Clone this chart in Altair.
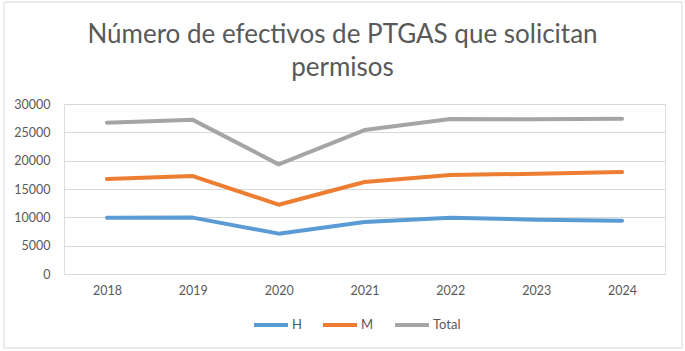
import altair as alt
import pandas as pd

years = ["2018", "2019", "2020", "2021", "2022", "2023", "2024"]
h_vals = [9940, 9950, 7120, 9180, 9940, 9590, 9410]
m_vals = [16760, 17290, 12230, 16230, 17470, 17700, 18000]
total_vals = [26700, 27200, 19350, 25400, 27350, 27300, 27400]
series = ["H", "M", "Total"]
colors = ["#5B9BD5", "#ED7D31", "#A5A5A5"]
y_ticks = [0, 5000, 10000, 15000, 20000, 25000, 30000]

rows = []
for name, vals in zip(series, [h_vals, m_vals, total_vals]):
    for yr, v in zip(years, vals):
        rows.append({"Año": yr, "Serie": name, "Valor": v})
df = pd.DataFrame(rows)

FONT = "Lato"
GREY = "#595959"

lines = alt.Chart(df).mark_line(strokeWidth=4, strokeCap="round", strokeJoin="round").encode(
    x=alt.X("Año:O", sort=years,
            scale=alt.Scale(type="point", padding=0.5),
            axis=alt.Axis(title=None, labelAngle=0, ticks=False, domain=False, grid=False,
                          labelPadding=10, labelFontSize=12.5, labelColor=GREY, labelFont=FONT)),
    y=alt.Y("Valor:Q", scale=alt.Scale(domain=[0, 30000], nice=False),
            axis=alt.Axis(title=None, values=y_ticks, format="d", ticks=False, domain=False, grid=True,
                          gridColor="#D9D9D9", gridWidth=1, labelPadding=14,
                          labelFontSize=12.5, labelColor=GREY, labelFont=FONT)),
    color=alt.Color("Serie:N", sort=series,
                    scale=alt.Scale(domain=series, range=colors),
                    legend=alt.Legend(title=None, orient="none", direction="horizontal",
                                      legendX=188, legendY=202,
                                      symbolType="stroke", symbolSize=1156, symbolStrokeWidth=4,
                                      labelOffset=2, columnPadding=13,
                                      labelFontSize=13, labelColor=GREY, labelFont=FONT)),
    detail="Serie:N",
)

border = alt.Chart(alt.Data(values=[{"a": 1}])).mark_rect(
    fill=None, stroke="#D9D9D9", strokeWidth=1
).encode(
    x=alt.value(-60), x2=alt.value(618), y=alt.value(-102), y2=alt.value(244)
)

chart = alt.layer(border, lines).properties(
    width=601, height=170,
    padding={"left": 64, "top": 104, "right": 20, "bottom": 77},
    autosize=alt.AutoSizeParams(type="none"),
    title=alt.TitleParams(
        text=["Número de efectivos de PTGAS que solicitan", "permisos"],
        anchor="middle", frame="group", dx=-22, offset=-79,
        font=FONT, fontSize=26, fontWeight="normal", color=GREY, lineHeight=33,
    ),
).configure_view(stroke=None).configure(background="white")

chart.save("out.html", embed_options={"renderer": "svg", "actions": False})
